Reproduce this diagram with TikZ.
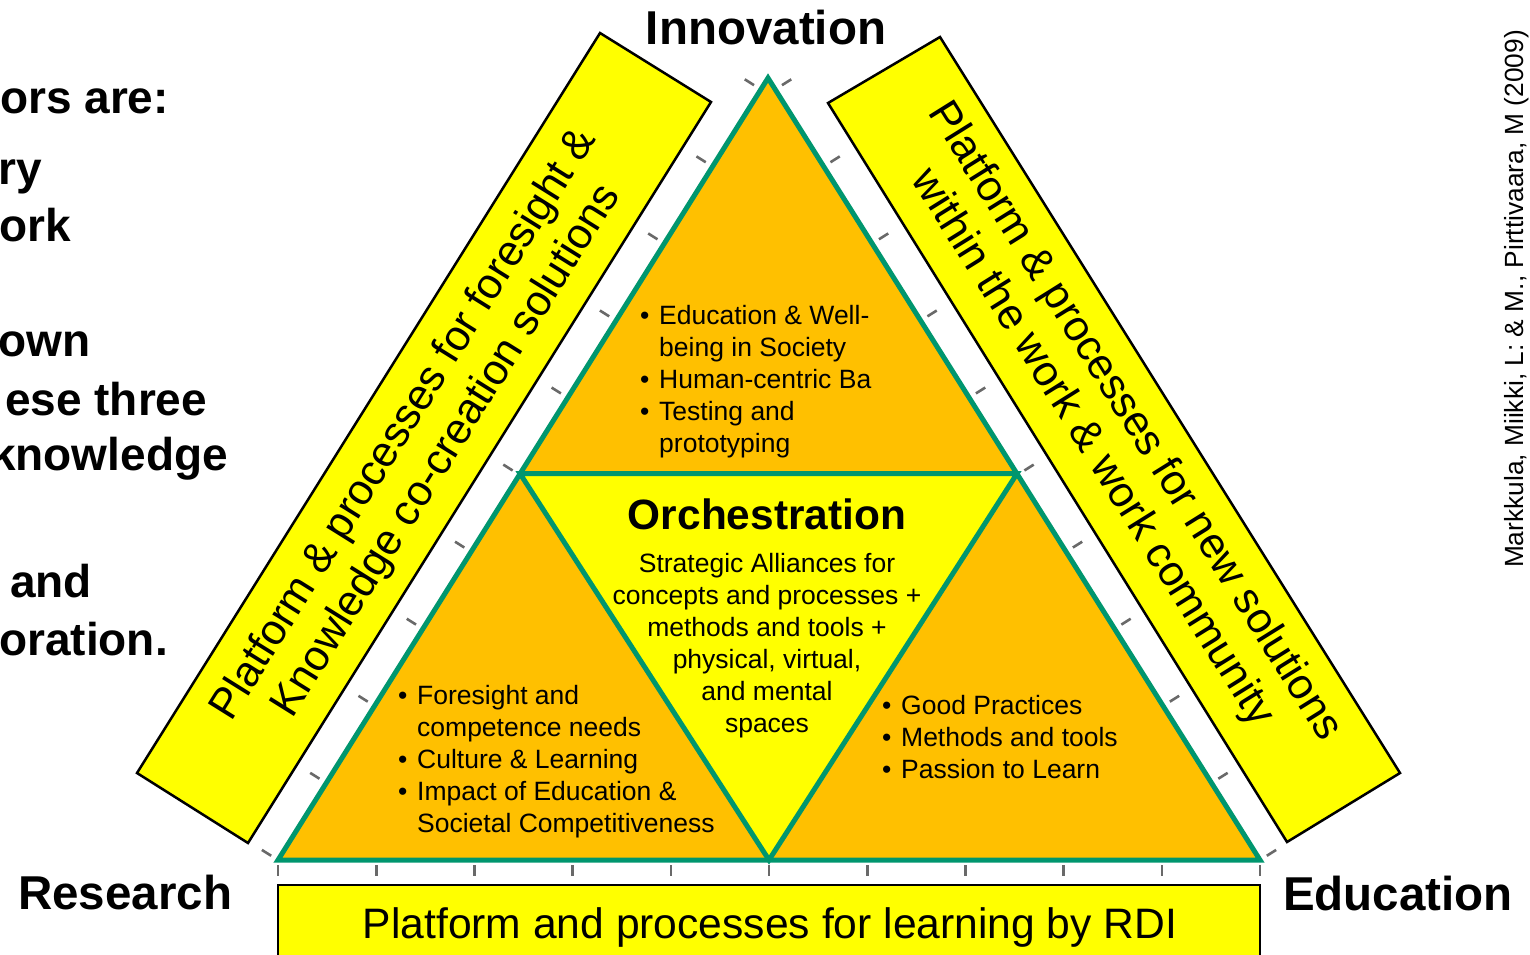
\documentclass[tikz,border=0pt]{standalone}
\usepackage{fontspec}
\setmainfont{Liberation Sans}
\usetikzlibrary{calc}
\definecolor{triorange}{RGB}{255,192,0}
\definecolor{bandyellow}{RGB}{255,255,0}
\definecolor{edgegreen}{RGB}{0,150,110}
\definecolor{tickgray}{RGB}{105,105,105}
\begin{document}
\begin{tikzpicture}[x=1pt,y=-1pt,
  bandbox/.style={draw=black,fill=bandyellow,line width=2.5pt,line join=miter},
  tickmark/.style={draw=tickgray,line width=2.6pt},
  edgeline/.style={draw=edgegreen,line width=5pt,line join=miter},
  bandtext/.style={font=\fontsize{43pt}{50pt}\selectfont,align=center,inner sep=0pt},
  bigtext/.style={font=\fontsize{42.6pt}{50pt}\selectfont,inner sep=0pt},
  lab/.style={font=\fontsize{47.5pt}{56pt}\selectfont\bfseries,inner sep=0pt},
  sidetext/.style={font=\fontsize{46pt}{56pt}\selectfont\bfseries,inner sep=0pt,anchor=base west},
  body/.style={font=\fontsize{26.5pt}{32pt}\selectfont,inner sep=0pt},
  citetext/.style={font=\fontsize{26.3pt}{32pt}\selectfont,inner sep=0pt}
]
\newcommand{\bul}{\makebox[19pt][l]{•}}
\useasboundingbox (0,0) rectangle (1530,954);

% corner points
\coordinate (A) at (768,78);
\coordinate (B) at (278,860);
\coordinate (C) at (1260,860);
\coordinate (AB) at ($(A)!0.506!(B)$);
\coordinate (AC) at ($(A)!0.506!(C)$);
\coordinate (BC) at ($(B)!0.5!(C)$);

% left band
\coordinate (L1) at (600,33);
\coordinate (L2) at (711,102);
\coordinate (L3) at (248,843);
\coordinate (L4) at (137,773);
\draw[bandbox] (L1) -- (L2) -- (L3) -- (L4) -- cycle;
% right band
\coordinate (R1) at (828,103);
\coordinate (R2) at (940,37);
\coordinate (R3) at (1400,773);
\coordinate (R4) at (1287,842);
\draw[bandbox] (R1) -- (R2) -- (R3) -- (R4) -- cycle;
% bottom band
\coordinate (D1) at (278,885);
\coordinate (D2) at (1260,975);
\draw[bandbox] (D1) rectangle (D2);

% ticks
\foreach \k in {0,...,10}{
  \pgfmathsetmacro{\tt}{0.0146+\k*0.09854}
  \draw[tickmark] ($(A)!\tt!(B)+(-6.8,-4.25)$) -- ($(A)!\tt!(B)+(-16.1,-10.1)$);
  \draw[tickmark] ($(A)!\tt!(C)+(6.8,-4.25)$) -- ($(A)!\tt!(C)+(16.1,-10.1)$);
  \draw[tickmark] ($(B)!\k*0.1!(C)+(0,5)$) -- ($(B)!\k*0.1!(C)+(0,16)$);
}

% triangles
\fill[triorange] (A) -- (B) -- (C) -- cycle;
\fill[bandyellow] (AB) -- (AC) -- (BC) -- cycle;
\draw[edgeline] (AB) -- (AC) -- (BC) -- cycle;
\draw[edgeline] (A) -- (B) -- (C) -- cycle;

% band texts
\node[bandtext,rotate=58] (lefttxt) at (426,438) {Platform \& processes for foresight \&\\Knowledge co-creation solutions};
\node[bandtext,rotate=-58] (righttxt) at (1113,435) {Platform \& processes for new solutions\\within the work \& work community};
\node[bigtext,anchor=base] (bottomtxt) at (770,938) {Platform and processes for learning by RDI};

% corner labels
\node[lab,anchor=base] (innov) at (766,44) {Innovation};
\node[lab,anchor=base west] (research) at (18,909) {Research};
\node[lab,anchor=base west] (educ) at (1283,910) {Education};

% top block
\node[body,anchor=base west] (t1) at (640,324) {\bul Education \& Well-};
\node[body,anchor=base west] (t2) at (659,356) {being in Society};
\node[body,anchor=base west] (t3) at (640,388) {\bul Human-centric Ba};
\node[body,anchor=base west] (t4) at (640,420) {\bul Testing and};
\node[body,anchor=base west] (t5) at (659,452) {prototyping};

% orchestration
\node[font=\fontsize{42.4pt}{50pt}\selectfont\bfseries,inner sep=0pt,anchor=base] (orch) at (767,529) {Orchestration};
\node[body,anchor=base] (o1) at (767,572) {Strategic Alliances for};
\node[body,anchor=base] (o2) at (767,604) {concepts and processes +};
\node[body,anchor=base] (o3) at (767,636) {methods and tools +};
\node[body,anchor=base] (o4) at (767,668) {physical, virtual,};
\node[body,anchor=base] (o5) at (767,700) {and mental};
\node[body,anchor=base] (o6) at (767,732) {spaces};

% bottom-left block
\node[body,anchor=base west] (b1) at (398,704) {\bul Foresight and};
\node[body,anchor=base west] (b2) at (417,736) {competence needs};
\node[body,anchor=base west] (b3) at (398,768) {\bul Culture \& Learning};
\node[body,anchor=base west] (b4) at (398,800) {\bul Impact of Education \&};
\node[body,anchor=base west] (b5) at (417,832) {Societal Competitiveness};

% bottom-right block
\node[body,anchor=base west] (r1) at (882,714) {\bul Good Practices};
\node[body,anchor=base west] (r2) at (882,746) {\bul Methods and tools};
\node[body,anchor=base west] (r3) at (882,778) {\bul Passion to Learn};

% cut-off text on the left
\node[sidetext] (s1) at (0,113) {ors are:};
\node[sidetext] (s2) at (-2,184) {ry};
\node[sidetext] (s3) at (-1,241) {ork};
\node[sidetext] (s4) at (-2,356) {own};
\node[sidetext] (s5) at (5,415) {ese three};
\node[sidetext] (s6) at (-10,470) {knowledge};
\node[sidetext] (s7) at (10,597) {and};
\node[sidetext] (s8) at (-1,655) {oration.};

% citation
\node[citetext,rotate=90] (cite) at (1517,299) {Markkula, Miikki, L: \& M., Pirttivaara, M (2009)};
\end{tikzpicture}
\end{document}
